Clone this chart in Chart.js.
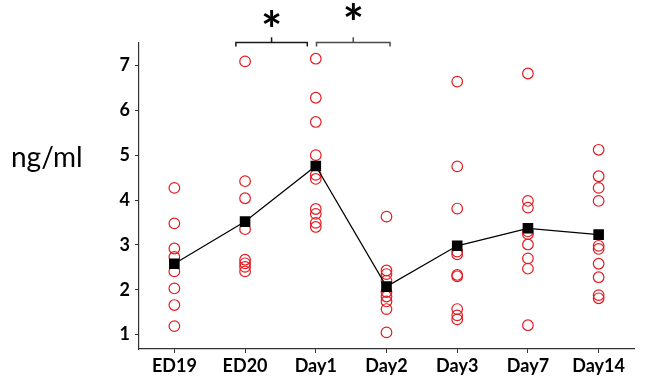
<!DOCTYPE html>
<html>
<head>
<meta charset="utf-8">
<script src="https://cdn.jsdelivr.net/npm/chart.js@4"></script>
<style>
  body { margin: 0; background: #fff; }
</style>
</head>
<body>
<canvas id="chart" width="648" height="384"></canvas>
<script>
const days = ['ED19', 'ED20', 'Day1', 'Day2', 'Day3', 'Day7', 'Day14'];

// individual measurements per day
const ed19 = [4.27, 3.48, 2.92, 2.73, 2.41, 2.03, 1.66, 1.19];
const ed20 = [7.09, 4.42, 4.04, 3.35, 2.67, 2.59, 2.51, 2.41];
const day1 = [7.15, 6.28, 5.74, 5.0, 4.56, 4.47, 3.80, 3.69, 3.49, 3.40];
const day2 = [3.63, 2.43, 2.35, 2.2, 1.95, 1.85, 1.74, 1.57, 1.05];
const day3 = [6.64, 4.75, 3.81, 2.85, 2.79, 2.33, 2.30, 1.57, 1.43, 1.34];
const day7 = [6.82, 3.98, 3.83, 3.30, 3.24, 3.01, 2.70, 2.47, 1.21];
const day14 = [5.12, 4.53, 4.27, 3.98, 2.98, 2.91, 2.58, 2.28, 1.88, 1.81];

// group means
const means = [2.58, 3.52, 4.76, 2.07, 2.98, 3.37, 3.23];

const yTicks = [1, 2, 3, 4, 5, 6, 7];

const groups = [ed19, ed20, day1, day2, day3, day7, day14];
const points = [];
groups.forEach((vals, i) => {
  vals.forEach(v => points.push({x: days[i], y: v}));
});

// significance brackets: [from, to] as category positions
const brackets = [
  {from: 0.87, to: 1.88, star: 7.99, color: '#1a1a1a'},
  {from: 2.01, to: 3.05, star: 8.14, color: '#4a4a4a'}
];

const extras = {
  id: 'extras',
  afterDraw(chart) {
    const ctx = chart.ctx;
    const x = chart.scales.x;
    const y = chart.scales.y;
    ctx.save();
    ctx.fillStyle = '#000';
    ctx.font = '28px Lato';
    ctx.textBaseline = 'middle';
    ctx.textAlign = 'left';
    ctx.fillText('ng/ml', 11, 158);

    brackets.forEach(b => {
      const x1 = x.getPixelForValue(b.from);
      const x2 = x.getPixelForValue(b.to);
      const xm = (x1 + x2) / 2;
      const yl = Math.round(y.getPixelForValue(7.52)) + 0.5;
      const yd = y.getPixelForValue(7.42);
      const yu = y.getPixelForValue(7.63);
      ctx.strokeStyle = b.color;
      ctx.lineWidth = 1.5;
      ctx.beginPath();
      ctx.moveTo(x1, yd);
      ctx.lineTo(x1, yl);
      ctx.lineTo(x2, yl);
      ctx.lineTo(x2, yd);
      ctx.moveTo(xm, yl);
      ctx.lineTo(xm, yu);
      ctx.stroke();
      ctx.fillStyle = '#000';
      ctx.font = 'bold 50px Lato';
      ctx.textAlign = 'center';
      ctx.textBaseline = 'middle';
      ctx.fillText('*', xm, y.getPixelForValue(b.star) + 11);
    });
    ctx.restore();
  }
};

new Chart(document.getElementById('chart'), {
  type: 'line',
  data: {
    labels: days,
    datasets: [{
      label: 'Mean',
      data: means,
      borderColor: '#000',
      borderWidth: 1.2,
      backgroundColor: '#000',
      pointStyle: 'rect',
      pointRadius: 7.5,
      pointBackgroundColor: '#000',
      pointBorderWidth: 0,
      tension: 0
    }, {
      label: 'Samples',
      data: points,
      showLine: false,
      pointStyle: 'circle',
      pointRadius: 5.3,
      pointBorderColor: 'rgb(226, 28, 34)',
      pointBackgroundColor: 'rgba(0,0,0,0)',
      pointBorderWidth: 1.2
    }]
  },
  options: {
    responsive: false,
    animation: false,
    layout: {padding: {left: 0, right: 14, top: 43, bottom: 0}},
    plugins: {
      legend: {display: false},
      tooltip: {enabled: false}
    },
    scales: {
      x: {
        type: 'category',
        offset: true,
        grid: {
          offset: false,
          drawOnChartArea: false,
          tickLength: 4,
          color: '#333'
        },
        border: {display: true, color: '#333', width: 1.2},
        ticks: {
          color: '#000',
          padding: 2,
          font: {family: 'Lato', size: 18, weight: 'bold'}
        },
        afterFit(s) { s.height = 35; }
      },
      y: {
        min: 0.68,
        max: 7.5,
        grid: {
          drawOnChartArea: false,
          tickLength: 4,
          color: '#333'
        },
        border: {display: true, color: '#333', width: 1.2},
        ticks: {
          stepSize: 1,
          includeBounds: false,
          color: '#000',
          padding: 5,
          font: {family: 'Lato', size: 18, weight: 'bold'}
        },
        afterBuildTicks(s) {
          s.ticks = yTicks.map(v => ({value: v}));
        },
        afterFit(s) { s.width = 139; }
      }
    }
  },
  plugins: [extras]
});
</script>
</body>
</html>
